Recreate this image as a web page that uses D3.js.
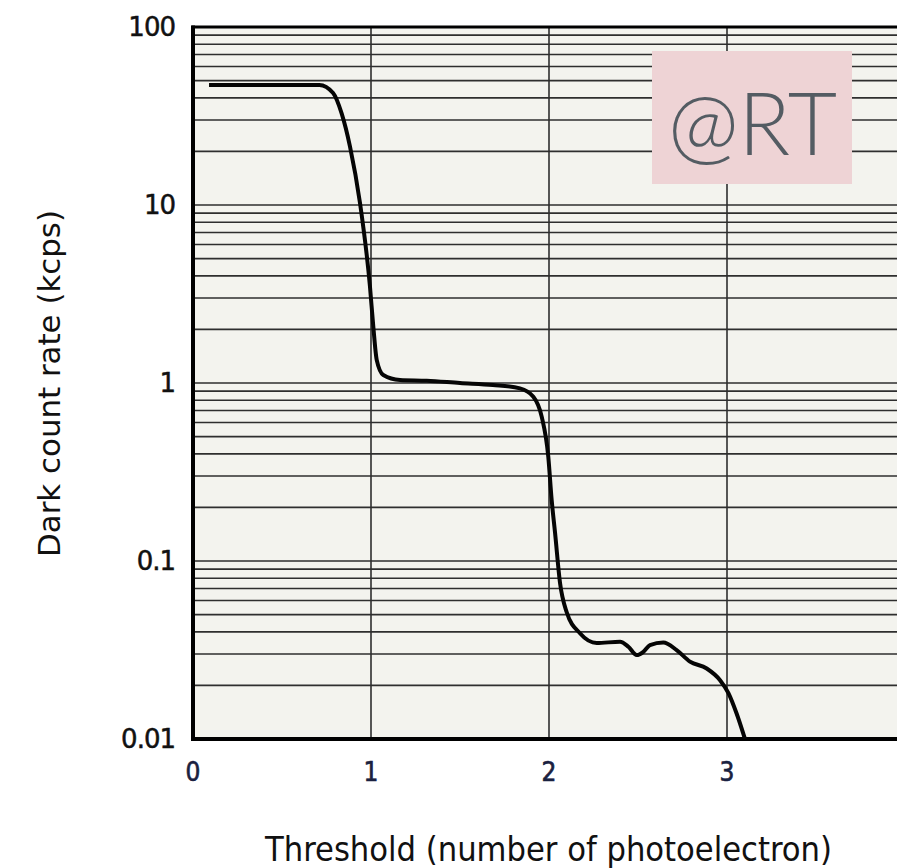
<!DOCTYPE html>
<html>
<head>
<meta charset="utf-8">
<script src="https://cdn.jsdelivr.net/npm/d3@7"></script>
<style>
  html, body { margin: 0; padding: 0; background: #ffffff; overflow: hidden; }
  svg { display: block; }
</style>
</head>
<body>
<svg id="chart" width="897" height="868"></svg>
<script>
// ---- data ----
const thresholds = [0.09, 0.3, 0.5, 0.71, 0.787, 0.835, 0.882, 0.938, 0.994, 1.013, 1.032, 1.069, 1.163, 1.313, 1.5, 1.685, 1.837, 1.912, 1.959, 1.996, 2.015, 2.034, 2.062, 2.099, 2.174, 2.268, 2.399, 2.446, 2.493, 2.53, 2.567, 2.642, 2.717, 2.792, 2.886, 2.961, 3.008, 3.054, 3.101];
const darkRates  = [47.3, 47.3, 47.3, 47.3, 42.6, 32.7, 21.3, 10.3, 3.5, 2.07, 1.35, 1.11, 1.04, 1.03, 1.0, 0.975, 0.933, 0.838, 0.647, 0.385, 0.22, 0.144, 0.0752, 0.0517, 0.0393, 0.0346, 0.0352, 0.033, 0.0296, 0.0309, 0.0337, 0.0348, 0.0316, 0.0272, 0.0249, 0.0214, 0.0181, 0.0139, 0.0100];
const xTickValues = [0, 1, 2, 3, 4];
const xTickLabels = ["0", "1", "2", "3", "4"];
const yTickValues = [100, 10, 1, 0.1, 0.01];
const yTickLabels = ["100", "10", "1", "0.1", "0.01"];
const xTitle = "Threshold (number of photoelectron)";
const yTitle = "Dark count rate (kcps)";
const watermark = "@RT";

(function () {
// ---- layout ----
const svg = d3.select("#chart");
const pl = 193, pt = 27, pb = 739, pr = 905;

const x = d3.scaleLinear().domain([0, 4]).range([pl, pr]);
const y = d3.scaleLog().domain([0.01, 100]).range([pb, pt]);

// plot background
svg.append("rect")
  .attr("x", pl).attr("y", pt)
  .attr("width", pr - pl).attr("height", pb - pt)
  .attr("fill", "#f3f3ee");

// horizontal log grid
const gridVals = [];
for (let d = -2; d < 2; d++) {
  for (let m = 1; m <= 9; m++) gridVals.push(m * Math.pow(10, d));
}
svg.append("g")
  .selectAll("line")
  .data(gridVals.filter(v => v > 0.01 && v < 100))
  .join("line")
  .attr("x1", pl).attr("x2", pr)
  .attr("y1", d => y(d)).attr("y2", d => y(d))
  .attr("stroke", "#2e2e2e")
  .attr("stroke-width", 1.6);

// vertical grid
svg.append("g")
  .selectAll("line")
  .data(xTickValues.filter(v => v > 0 && v < 4))
  .join("line")
  .attr("x1", d => x(d)).attr("x2", d => x(d))
  .attr("y1", pt).attr("y2", pb)
  .attr("stroke", "#2e2e2e")
  .attr("stroke-width", 1.6);

// frame
svg.append("line").attr("x1", pl - 1.5).attr("x2", pr).attr("y1", pt).attr("y2", pt)
  .attr("stroke", "#000").attr("stroke-width", 3);
svg.append("line").attr("x1", pl - 2).attr("x2", pr).attr("y1", pb).attr("y2", pb)
  .attr("stroke", "#000").attr("stroke-width", 4);
svg.append("line").attr("x1", pl).attr("x2", pl).attr("y1", pt - 1.5).attr("y2", pb + 2)
  .attr("stroke", "#000").attr("stroke-width", 4);

// curve
const pts = thresholds.map((t, i) => [t, darkRates[i]]);
const line = d3.line()
  .x(d => x(d[0]))
  .y(d => y(d[1]))
  .curve(d3.curveMonotoneX);
svg.append("path")
  .datum(pts)
  .attr("d", line)
  .attr("fill", "none")
  .attr("stroke", "#050505")
  .attr("stroke-width", 4)
  .attr("stroke-linejoin", "round")
  .attr("stroke-linecap", "butt");

// y tick labels
svg.append("g")
  .selectAll("text")
  .data(yTickValues)
  .join("text")
  .attr("x", 175)
  .attr("y", d => y(d))
  .attr("dy", "0.36em")
  .attr("text-anchor", "end")
  .attr("font-family", "DejaVu Sans, Verdana, sans-serif")
  .attr("font-size", 26)
  .attr("fill", "#111")
  .attr("stroke", "#111")
  .attr("stroke-width", 0.5)
  .style("letter-spacing", "-1px")
  .text((d, i) => yTickLabels[i]);

// x tick labels
svg.append("g")
  .selectAll("text")
  .data(xTickValues)
  .join("text")
  .attr("x", d => x(d))
  .attr("y", 781)
  .attr("text-anchor", "middle")
  .attr("font-family", "DejaVu Sans Condensed, DejaVu Sans, sans-serif")
  .attr("font-size", 26)
  .attr("fill", (d, i) => i === 4 ? "#d9822b" : "#1a2140")
  .attr("stroke", (d, i) => i === 4 ? "#d9822b" : "#1a2140")
  .attr("stroke-width", 0.6)
  .text((d, i) => xTickLabels[i]);

// axis titles
svg.append("text")
  .attr("x", 265).attr("y", 861)
  .attr("font-family", "DejaVu Sans Condensed, DejaVu Sans, sans-serif")
  .attr("font-size", 33)
  .attr("fill", "#111")
  .attr("textLength", 567)
  .attr("lengthAdjust", "spacingAndGlyphs")
  .text(xTitle);

svg.append("text")
  .attr("transform", "translate(60,557) rotate(-90)")
  .attr("font-family", "DejaVu Sans Condensed, DejaVu Sans, sans-serif")
  .attr("font-size", 30)
  .attr("fill", "#111")
  .attr("textLength", 347)
  .attr("lengthAdjust", "spacingAndGlyphs")
  .text(yTitle);

// watermark
svg.append("rect")
  .attr("x", 652).attr("y", 51)
  .attr("width", 200).attr("height", 133)
  .attr("fill", "#eed3d5");
svg.append("text")
  .attr("x", 668).attr("y", 155)
  .attr("font-family", "Lato, Open Sans, sans-serif")
  .attr("font-weight", 300)
  .attr("font-size", 86)
  .attr("fill", "#545c63")
  .attr("textLength", 169)
  .attr("lengthAdjust", "spacingAndGlyphs")
  .text(watermark);
})();
</script>
</body>
</html>
